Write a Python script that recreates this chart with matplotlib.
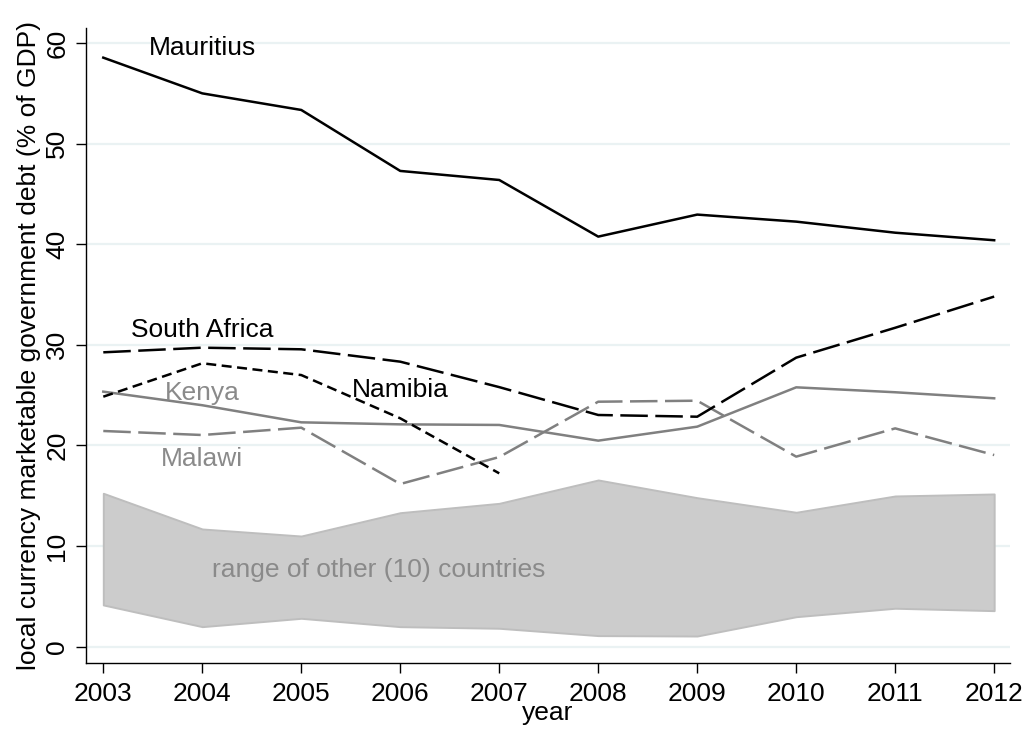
import numpy as np
import matplotlib
matplotlib.use("Agg")
import matplotlib.pyplot as plt

plt.rcParams['font.family'] = ['Liberation Sans', 'DejaVu Sans']

years = [2003, 2004, 2005, 2006, 2007, 2008, 2009, 2010, 2011, 2012]
mauritius = [58.55, 55.0, 53.35, 47.29, 46.39, 40.76, 42.95, 42.25, 41.15, 40.4]
south_africa = [29.26, 29.72, 29.56, 28.33, 25.8, 23.03, 22.86, 28.73, 31.7, 34.8]
namibia_years = [2003, 2004, 2005, 2006, 2007]
namibia = [24.85, 28.17, 27.0, 22.7, 17.23]
kenya = [25.35, 24.0, 22.3, 22.1, 22.04, 20.48, 21.87, 25.78, 25.29, 24.69]
malawi = [21.44, 21.04, 21.77, 16.17, 18.85, 24.35, 24.45, 18.89, 21.7, 19.05]
others_hi = [15.25, 11.7, 11.0, 13.32, 14.25, 16.57, 14.81, 13.36, 14.98, 15.18]
others_lo = [4.15, 1.99, 2.82, 1.99, 1.83, 1.1, 1.06, 2.98, 3.82, 3.58]

fig = plt.figure(figsize=(10.32, 7.42), dpi=100)
ax = fig.add_axes([0.0833, 0.1065, 0.8954, 0.8558])

grid_col = '#EAF2F3'
for v in range(0, 61, 10):
    ax.axhline(v, color=grid_col, lw=1.6, zorder=0)

gray = '#808080'
ax.fill_between(years, others_lo, others_hi, facecolor='#CCCCCC', edgecolor='#BEBEBE', lw=1.4, zorder=1)
ax.plot(years, mauritius, color='black', lw=1.8, zorder=3)
ax.plot(years, south_africa, color='black', lw=1.8, dashes=(11, 3), zorder=3)
ax.plot(namibia_years, namibia, color='black', lw=1.8, dashes=(4, 2.2), zorder=3)
ax.plot(years, kenya, color=gray, lw=1.8, zorder=2)
ax.plot(years, malawi, color=gray, lw=1.8, dashes=(11, 3), zorder=2)

fs = 19
ax.text(2004.0, 58.8, 'Mauritius', ha='center', va='baseline', fontsize=fs, color='black')
ax.text(2004.0, 30.78, 'South Africa', ha='center', va='baseline', fontsize=fs, color='black')
ax.text(2006.0, 24.82, 'Namibia', ha='center', va='baseline', fontsize=fs, color='black')
ax.text(2004.0, 24.5, 'Kenya', ha='center', va='baseline', fontsize=fs, color='#8a8a8a')
ax.text(2004.0, 17.96, 'Malawi', ha='center', va='baseline', fontsize=fs, color='#8a8a8a')
ax.text(2005.78, 6.96, 'range of other (10) countries', ha='center', va='baseline',
        fontsize=fs, color='#8a8a8a')

ax.set_xlim(2002.825, 2012.16)
ax.set_ylim(-1.62, 61.5)
ax.set_xticks(years)
ax.set_yticks(range(0, 61, 10))
ax.set_yticklabels([str(v) for v in range(0, 61, 10)], rotation=90, va='center')
ax.tick_params(axis='both', direction='out', length=7, width=1, labelsize=fs, pad=5)
ax.tick_params(axis='x', pad=7)
for s in ['top', 'right']:
    ax.spines[s].set_visible(False)
ax.spines['left'].set_linewidth(1)
ax.spines['bottom'].set_linewidth(1)

ax.set_xlabel('year', fontsize=fs, labelpad=-4)
ax.set_ylabel('local currency marketable government debt (% of GDP)', fontsize=fs, labelpad=3)

fig.savefig('out.png', dpi=100)
